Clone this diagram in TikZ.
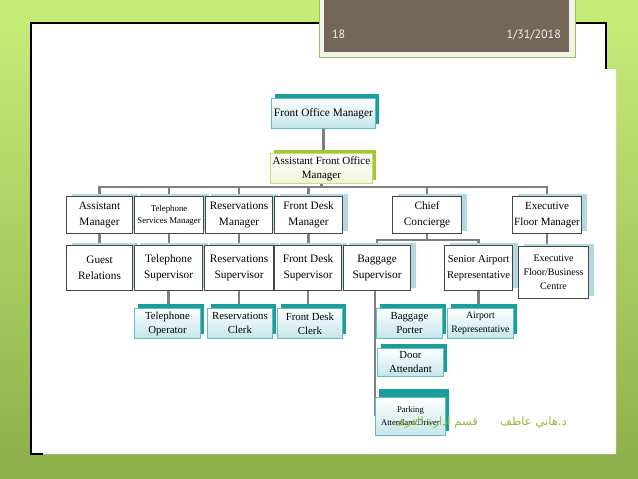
\documentclass[tikz,border=0pt]{standalone}
\usepackage{fontspec}
\setmainfont{Liberation Serif}
\newfontfamily\arabicfont[Script=Arabic]{DejaVu Sans}
\newfontfamily\slidefont{PT Sans}
\TeXXeTstate=1
\pgfdeclarelayer{bg}
\pgfdeclarelayer{lines}
\pgfsetlayers{bg,lines,main}
\definecolor{tealsh}{HTML}{1A9E9C}
\definecolor{tealbd}{HTML}{62BCC2}
\definecolor{tealfill}{HTML}{C4E6EB}
\definecolor{greensh}{HTML}{9CCB2E}
\definecolor{greenbd}{HTML}{C2DD7A}
\definecolor{greenfill}{HTML}{EEF6D6}
\definecolor{greybd}{HTML}{454545}
\definecolor{bluesh}{HTML}{B2D8E0}
\definecolor{connc}{HTML}{7F7F7F}
\definecolor{bgtop}{HTML}{C8EE7A}
\definecolor{bgmid}{HTML}{AFD45F}
\definecolor{bgbot}{HTML}{8DAF4C}
\definecolor{brownbox}{HTML}{736858}
\definecolor{brownedge}{HTML}{F2F3EA}
\definecolor{brownline}{HTML}{9DBF5C}
\definecolor{arabgreen}{HTML}{92BA3C}
\tikzset{
  base/.style={rectangle, anchor=north west, inner sep=1pt, align=center,
    font=\fontsize{11.3}{14}\selectfont, line width=0.9pt},
  tealbox/.style={base, draw=tealbd, top color=white, bottom color=tealfill,
    preaction={fill=tealsh, transform canvas={xshift=4pt,yshift=4pt}}},
  greenbox/.style={base, draw=greenbd, top color=white, bottom color=greenfill,
    preaction={fill=greensh, transform canvas={xshift=4pt,yshift=3pt}}},
  greybox/.style={base, draw=greybd, fill=white, line width=1.1pt,
    preaction={fill=bluesh, transform canvas={xshift=5pt,yshift=3pt}}},
  conn/.style={draw=connc, line width=2.6pt},
}
\begin{document}
\begin{tikzpicture}[x=1pt,y=-1pt]
\useasboundingbox (0,0) rectangle (638,479);
% slide background
\begin{pgfonlayer}{bg}
\shade[top color=bgtop, middle color=bgmid, bottom color=bgbot] (0,0) rectangle (638,479);
\fill[white] (31,23) -- (606,23) -- (606,69) -- (616,69) -- (616,454) -- (31,454) -- cycle;
\draw[black, line width=1.5pt] (43,454) -- (31,454) -- (31,23) -- (606,23) -- (606,69);
\fill[brownedge, draw=brownline, line width=0.8pt] (319,-2) rectangle (575,57);
\fill[brownbox] (324,-2) rectangle (569,52);
\node[anchor=base west, inner sep=0, text=white!94!black, font=\slidefont\fontsize{12}{12}\selectfont] (slnum) at (332,38) {18};
\node[anchor=base east, inner sep=0, text=white!94!black, font=\slidefont\fontsize{12}{12}\selectfont] (sldate) at (561,38) {1/31/2018};
\end{pgfonlayer}

% level 0/1
\node[tealbox, minimum width=104pt, minimum height=30pt] (fom) at (271,98) {Front Office Manager};
\node[greenbox, minimum width=102pt, minimum height=30pt, font=\fontsize{11}{14}\selectfont] (afom) at (270,153) {Assistant Front Office\\Manager};

% level 2
\node[greybox, minimum width=66pt, minimum height=37pt, font=\fontsize{11.3}{16}\selectfont] (am) at (66,196) {Assistant\\Manager};
\node[greybox, minimum width=69pt, minimum height=37pt, font=\fontsize{8.8}{12}\selectfont] (tsm) at (134,196) {Telephone\\Services Manager};
\node[greybox, minimum width=67pt, minimum height=37pt, font=\fontsize{11.3}{16}\selectfont] (rm) at (205,196) {Reservations\\Manager};
\node[greybox, minimum width=68pt, minimum height=37pt, font=\fontsize{11.3}{16}\selectfont] (fdm) at (274,196) {Front Desk\\Manager};
\node[greybox, minimum width=69pt, minimum height=37pt, font=\fontsize{11.3}{16}\selectfont] (cc) at (392,196) {Chief\\Concierge};
\node[greybox, minimum width=69pt, minimum height=37pt, font=\fontsize{11}{16}\selectfont] (efm) at (512,196) {Executive\\Floor Manager};

% level 3
\node[greybox, minimum width=66pt, minimum height=45pt, font=\fontsize{11.3}{16}\selectfont] (gr) at (66,245) {Guest\\Relations};
\node[greybox, minimum width=68pt, minimum height=45pt, font=\fontsize{11.3}{16}\selectfont] (ts) at (134,245) {Telephone\\Supervisor};
\node[greybox, minimum width=69pt, minimum height=45pt, font=\fontsize{11.3}{16}\selectfont] (rs) at (204,245) {Reservations\\Supervisor};
\node[greybox, minimum width=67pt, minimum height=45pt, font=\fontsize{11.3}{16}\selectfont] (fds) at (274,245) {Front Desk\\Supervisor};
\node[greybox, minimum width=67pt, minimum height=45pt, font=\fontsize{11.3}{16}\selectfont] (bs) at (343,245) {Baggage\\Supervisor};
\node[greybox, minimum width=68pt, minimum height=45pt, font=\fontsize{10.6}{16}\selectfont] (sar) at (444,245) {Senior Airport\\Representative};
\node[greybox, minimum width=70pt, minimum height=52pt, font=\fontsize{10}{14}\selectfont] (efbc) at (518,246) {Executive\\Floor/Business\\Centre};

% level 4
\node[tealbox, minimum width=66pt, minimum height=30pt, font=\fontsize{10.8}{14}\selectfont] (to) at (134,308) {Telephone\\Operator};
\node[tealbox, minimum width=65pt, minimum height=30pt, font=\fontsize{10.8}{14}\selectfont] (rc) at (207,308) {Reservations\\Clerk};
\node[tealbox, minimum width=65pt, minimum height=30pt, font=\fontsize{10.8}{14}\selectfont] (fdc) at (277,308) {Front Desk\\Clerk};
\node[tealbox, minimum width=66pt, minimum height=30pt, font=\fontsize{10.8}{14}\selectfont] (bp) at (376,308) {Baggage\\Porter};
\node[tealbox, minimum width=66pt, minimum height=30pt, font=\fontsize{9.8}{14}\selectfont] (ar) at (447,308) {Airport\\Representative};
\node[tealbox, minimum width=66pt, minimum height=28pt, font=\fontsize{10.8}{14}\selectfont] (da) at (377,348) {Door\\Attendant};
\node[tealbox, minimum width=70pt, minimum height=38pt, font=\fontsize{8.6}{13}\selectfont,
  preaction={fill=tealsh, transform canvas={xshift=4pt,yshift=8pt}}] (pad) at (375,397) {Parking\\Attendant/Driver};

% connectors
\coordinate (bus1) at (0,187);
\coordinate (bus2) at (0,240);
\begin{pgfonlayer}{lines}
\draw[conn] (fom.south) -- (fom.south |- afom.north);
\draw[conn] (afom.south) -- (afom.south |- bus1);
\foreach \n in {am,tsm,rm,fdm,cc,efm}
  \draw[conn] (afom.south |- bus1) -| (\n.north);
\draw[conn] (am.south) -- (am.south |- gr.north);
\draw[conn] (tsm.south) -- (tsm.south |- ts.north);
\draw[conn] (rm.south) -- (rm.south |- rs.north);
\draw[conn] (fdm.south) -- (fdm.south |- fds.north);
\draw[conn] (efm.south) -- (efm.south |- efbc.north);
\draw[conn] (cc.south) -- (cc.south |- bus2);
\draw[conn] (cc.south |- bus2) -| (bs.north);
\draw[conn] (cc.south |- bus2) -| (sar.north);
\draw[conn] (ts.south) -- (ts.south |- to.north);
\draw[conn] (rs.south) -- (rs.south |- rc.north);
\draw[conn] (fds.south) -- (fds.south |- fdc.north);
\draw[conn] (sar.south) -- (sar.south |- ar.north);
\draw[conn] (bs.south -| pad.west) -- (pad.west);
\end{pgfonlayer}

% footer signature
\node[anchor=base east, inner sep=0, text=arabgreen, font=\arabicfont\fontsize{11.6}{13}\selectfont] (sig) at (567,425)
  {\beginR د.هاني عاطف\hspace{22pt}قسم ادارة الغرف\endR};
\end{tikzpicture}
\end{document}
